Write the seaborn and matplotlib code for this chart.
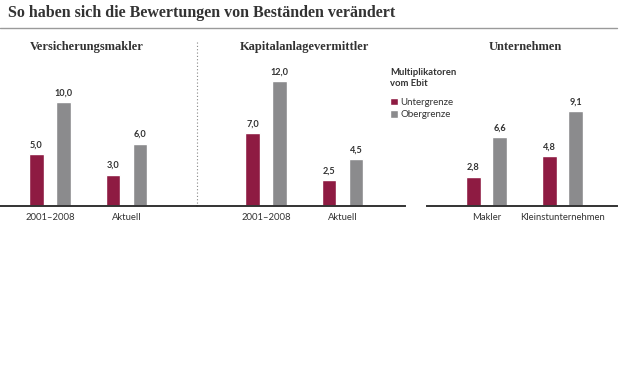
import matplotlib
matplotlib.use("Agg")
import matplotlib.pyplot as plt
import seaborn as sns
import pandas as pd
from matplotlib.lines import Line2D
from matplotlib.patches import Patch

# data
panel_titles = ["Versicherungsmakler", "Kapitalanlagevermittler", "Unternehmen"]
categories = [["2001–2008", "Aktuell"], ["2001–2008", "Aktuell"], ["Makler", "Kleinstunternehmen"]]
untergrenze = [[5.0, 3.0], [7.0, 2.5], [2.8, 4.8]]
obergrenze = [[10.0, 6.0], [12.0, 4.5], [6.6, 9.1]]
series_names = ["Untergrenze", "Obergrenze"]

RED = "#8e1b42"
GREY = "#8b8b8d"
DARK = "#333333"
SERIF = ["Liberation Serif", "DejaVu Serif"]

sns.set_style("white")
plt.rcParams["font.family"] = ["Lato", "DejaVu Sans"]

W, H = 621, 382
fig = plt.figure(figsize=(W / 100, H / 100), dpi=100)

def fx(px):
    return px / W

def fy(py):
    return 1 - py / H

base_y = 206
top_y = 60
px_per_unit = 10.4
ymax = (base_y - top_y) / px_per_unit

# pixel extents of each axes and the pixel x of the first category
axes_px = [(0, 197, 50, 76.5), (197, 405, 266, 76.5), (427, 617, 486.5, 76.0)]
title_x = [87, 304, 525]

for i, (x0, x1, c0, step) in enumerate(axes_px):
    ax = fig.add_axes([fx(x0), fy(base_y), fx(x1 - x0), (base_y - top_y) / H])
    df = pd.DataFrame({
        "cat": categories[i] * 2,
        "val": untergrenze[i] + obergrenze[i],
        "serie": [series_names[0]] * 2 + [series_names[1]] * 2,
    })
    sns.barplot(data=df, x="cat", y="val", hue="serie", order=categories[i],
                hue_order=series_names, palette=[RED, GREY], width=0.706,
                gap=0.445, ax=ax, legend=False, saturation=1)
    ax.set_xlim((x0 - c0) / step, (x1 - c0) / step)
    ax.set_ylim(0, ymax)
    for cont in ax.containers:
        ax.bar_label(cont, labels=[f"{b.get_height():.1f}".replace(".", ",") for b in cont],
                     padding=3.5, fontsize=6.6, fontweight="bold", color=DARK)
    for s in ["top", "left", "right"]:
        ax.spines[s].set_visible(False)
    ax.spines["bottom"].set_color(DARK)
    ax.spines["bottom"].set_linewidth(1.4)
    ax.set_yticks([])
    ax.set_xlabel("")
    ax.set_ylabel("")
    ax.tick_params(axis="x", length=0, pad=5, labelsize=6.8, colors=DARK)
    ax.patch.set_alpha(0)
    fig.text(fx(title_x[i]), fy(47), panel_titles[i], ha="center", va="center",
             fontsize=9, fontweight="bold", family=SERIF, color=DARK)

# legend
fig.text(fx(390), fy(78), "Multiplikatoren\nvom Ebit", ha="left", va="center",
         fontsize=6.8, fontweight="bold", color=DARK, linespacing=1.25)
handles = [Patch(facecolor=RED), Patch(facecolor=GREY)]
leg = fig.legend(handles, series_names, loc="upper left",
                 bbox_to_anchor=(fx(386), fy(94)),
                 frameon=False, fontsize=7, handlelength=0.8, handleheight=0.8,
                 handletextpad=0.3, labelspacing=0.35, borderaxespad=0)
for t in leg.get_texts():
    t.set_color(DARK)

# header
fig.text(fx(8), fy(13), "So haben sich die Bewertungen von Beständen verändert",
         ha="left", va="center", fontsize=11.5, fontweight="bold",
         family=SERIF, color=DARK)
fig.add_artist(Line2D([0, fx(617)], [fy(28), fy(28)], color="#9a9a9a", lw=1))
fig.add_artist(Line2D([fx(197), fx(197)], [fy(42), fy(204)], color="#888888",
                      lw=0.8, linestyle=(0, (1, 2))))

fig.savefig("out.png", dpi=100)
